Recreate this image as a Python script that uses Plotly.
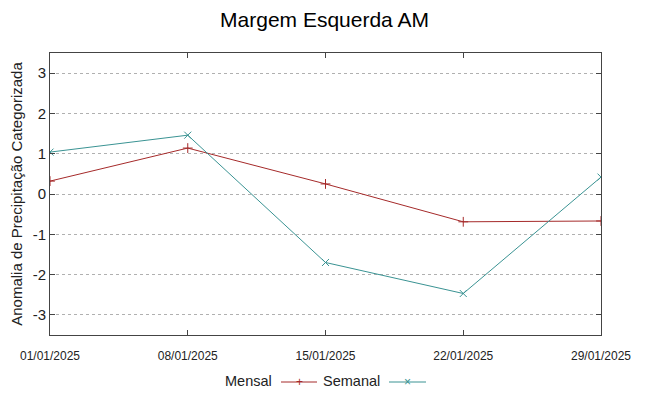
import plotly.graph_objects as go

dates = ["01/01/2025", "08/01/2025", "15/01/2025", "22/01/2025", "29/01/2025"]
x_days = [0, 7, 14, 21, 28]
mensal = [0.32, 1.14, 0.25, -0.69, -0.67]
semanal = [1.04, 1.46, -1.70, -2.47, 0.42]
y_ticks = [-3, -2, -1, 0, 1, 2, 3]
y_labels = ["-3", "-2", "-1", "0", "1", "2", "3"]

red = "#a52a2a"
teal = "#3a9393"
font = "Liberation Sans"

fig = go.Figure()
fig.add_trace(go.Scatter(x=x_days, y=mensal, mode="lines+markers", name="Mensal",
                         line=dict(color=red, width=1),
                         marker=dict(symbol="cross-thin", size=7, line=dict(color=red, width=1))))
fig.add_trace(go.Scatter(x=x_days, y=semanal, mode="lines+markers", name="Semanal",
                         line=dict(color=teal, width=1),
                         marker=dict(symbol="x-thin", size=7, line=dict(color=teal, width=1))))

W, H = 649, 396
L, R, T, B = 50, 48, 53, 61
pw, ph = W - L - R, H - T - B

fig.update_layout(
    width=W, height=H,
    margin=dict(l=L, r=R, t=T, b=B, autoexpand=False),
    paper_bgcolor="white", plot_bgcolor="white",
    showlegend=False,
    title=dict(text="Margem Esquerda AM", x=0.5, xanchor="center", y=1 - 20 / H, yanchor="middle",
               font=dict(family=font, size=21, color="black")),
    font=dict(family=font, color="black"),
)
fig.update_xaxes(range=[0, 28], tickvals=x_days, ticktext=dates, automargin=False,
                 tickfont=dict(family=font, size=12, color="#222"), ticklabelstandoff=10,
                 showgrid=False, zeroline=False, showline=True, linecolor="#444", linewidth=1,
                 mirror="allticks", ticks="inside", ticklen=5, tickcolor="#444")
fig.update_yaxes(range=[-3.5, 3.5], tickvals=y_ticks, ticktext=y_labels, automargin=False,
                 tickfont=dict(family=font, size=15, color="#222"),
                 title=dict(text="Anomalia de Precipitação Categorizada",
                            font=dict(family=font, size=15, color="#222"), standoff=6),
                 showgrid=True, gridcolor="#b0b0b0", griddash="dot", gridwidth=1,
                 zeroline=False, showline=True, linecolor="#444", linewidth=1,
                 mirror="allticks", ticks="inside", ticklen=5, tickcolor="#444")

legend_items = [("Mensal", 274, 281, 317, red, "+"), ("Semanal", 382, 389, 426, teal, "×")]

def px(xp):
    return (xp - L) / pw

def py(yp):
    return (H - B - yp) / ph

for name, tx, x0, x1, col, sym in legend_items:
    fig.add_annotation(x=px(tx), y=py(381), xref="paper", yref="paper", text=name,
                       showarrow=False, xanchor="right", yanchor="middle",
                       font=dict(family=font, size=14.5, color="#222"))
    fig.add_shape(type="line", xref="paper", yref="paper", x0=px(x0), x1=px(x1),
                  y0=py(382), y1=py(382), line=dict(color=col, width=1))
    fig.add_annotation(x=px((x0 + x1) / 2), y=py(382), xref="paper", yref="paper", text=sym,
                       showarrow=False, xanchor="center", yanchor="middle",
                       font=dict(family=font, size=12, color=col))

fig.write_html("out.html", config={"displayModeBar": False},
               post_script="document.body.style.margin='0';document.body.style.overflow='hidden';")
